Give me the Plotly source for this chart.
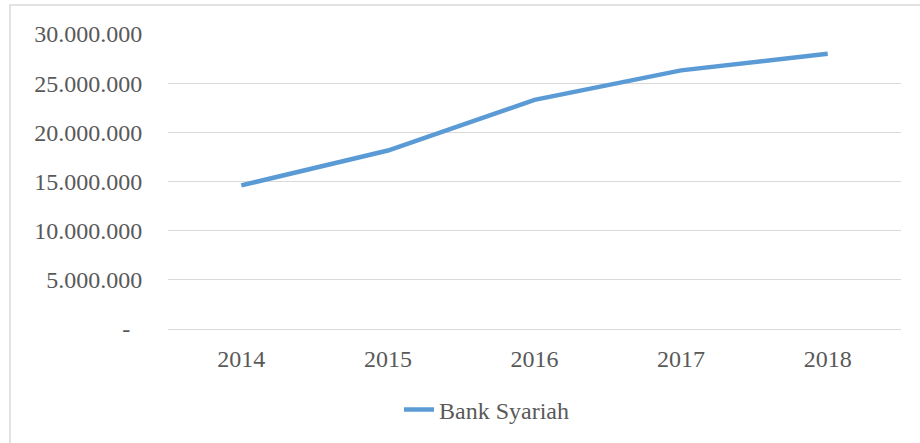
import plotly.graph_objects as go

years = ["2014", "2015", "2016", "2017", "2018"]
bank_syariah = [14600000, 18150000, 23300000, 26300000, 28000000]
y_ticks = [0, 5000000, 10000000, 15000000, 20000000, 25000000, 30000000]
y_labels = ["-\u00a0\u00a0", "5.000.000", "10.000.000", "15.000.000", "20.000.000", "25.000.000", "30.000.000"]

W, H = 920, 443
ml, mr, mt, mb = 168, 19, 34, 113
pw, ph = W - ml - mr, H - mt - mb

fig = go.Figure()
fig.add_trace(go.Scatter(
    x=years, y=bank_syariah, mode="lines", name="Bank Syariah",
    line=dict(color="#5B9BD5", width=4.5, shape="linear"),
))

font = dict(family="Liberation Serif, Times New Roman, serif", size=24, color="#595959")

fig.update_layout(
    width=W, height=H,
    margin=dict(l=ml, r=mr, t=mt, b=mb),
    paper_bgcolor="white", plot_bgcolor="white",
    font=font,
    showlegend=True,
    legend=dict(orientation="h", x=(399 - ml) / pw, xanchor="left",
                y=-(410 - mt - ph) / ph, yanchor="middle",
                font=font, bgcolor="rgba(0,0,0,0)"),
    xaxis=dict(type="category", range=[-0.5, 4.5], showgrid=False, zeroline=False,
               showline=False, ticks="outside", ticklen=8, tickcolor="rgba(0,0,0,0)",
               tickfont=font),
    yaxis=dict(range=[0, 30000000], tickvals=y_ticks, ticktext=y_labels,
               showgrid=True, gridcolor="#D9D9D9", gridwidth=1.3,
               zeroline=True, zerolinecolor="#D9D9D9", zerolinewidth=1.3,
               showline=False, ticks="outside", ticklen=20, tickcolor="rgba(0,0,0,0)",
               tickfont=font),
    shapes=[dict(type="rect", xref="paper", yref="paper",
                 x0=(10 - ml) / pw, x1=(935 - ml) / pw,
                 y0=-(460 - mt - ph) / ph, y1=(H - mb - 5) / ph,
                 line=dict(color="#D9D9D9", width=1.5), fillcolor="rgba(0,0,0,0)",
                 layer="below")],
)

fig.write_html("out.html", config={"displayModeBar": False},
               post_script="document.body.style.margin='0';document.body.style.overflow='hidden';")
